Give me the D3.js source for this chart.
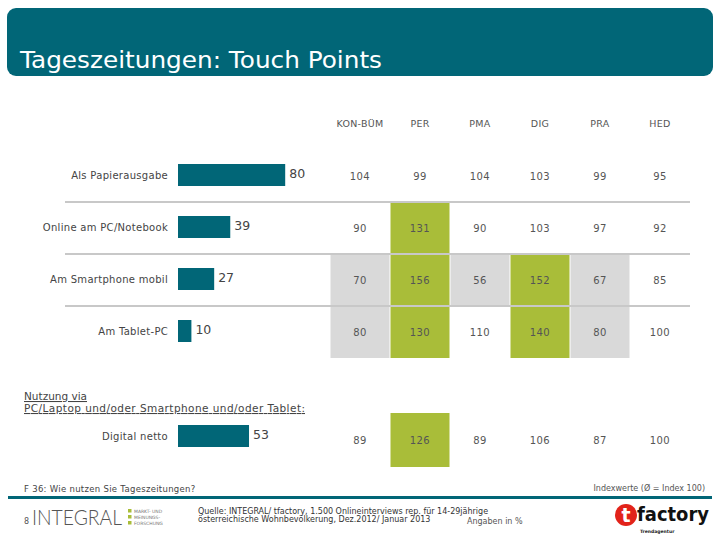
<!DOCTYPE html>
<html><head><meta charset="utf-8">
<script src="https://cdn.jsdelivr.net/npm/d3@7"></script>
<style>
html,body{margin:0;padding:0;background:#fff;}
svg{display:block;}
</style></head>
<body>
<svg id="chart" width="720" height="540"></svg>
<script>
// ---- data ----
const categories = ["Als Papierausgabe", "Online am PC/Notebook", "Am Smartphone mobil", "Am Tablet-PC"];
const usage = [80, 39, 27, 10];
const nettoLabel = "Digital netto";
const nettoValue = 53;
const columns = ["KON-BÜM", "PER", "PMA", "DIG", "PRA", "HED"];
const indexRows = [
  [104, 99, 104, 103, 99, 95],
  [90, 131, 90, 103, 97, 92],
  [70, 156, 56, 152, 67, 85],
  [80, 130, 110, 140, 80, 100]
];
const nettoIndex = [89, 126, 89, 106, 87, 100];

const TEAL = "#016677", GREEN = "#a9bd39", GREY = "#d9d9d9", SEP = "#c8c8c8";
const FONT = "DejaVu Sans, Verdana, sans-serif";

const svg = d3.select("#chart");

// header
svg.append("rect").attr("x", 7).attr("y", 8).attr("width", 706).attr("height", 68)
  .attr("rx", 9).attr("fill", TEAL);
svg.append("text").attr("x", 20).attr("y", 68).attr("fill", "#fff")
  .attr("font-family", FONT).attr("font-size", 23).attr("textLength", 362)
  .attr("lengthAdjust", "spacingAndGlyphs").text("Tageszeitungen: Touch Points");

// scales
const x = d3.scaleLinear().domain([0, 100]).range([178, 312]);
const rowBand = d3.scaleBand().domain(categories).range([150, 358]).paddingInner(0).paddingOuter(0);
const col = d3.scaleBand().domain(columns).range([330, 690]);

function cellColor(v) { return v >= 120 ? GREEN : (v <= 80 ? GREY : "none"); }

// table header
svg.append("g").selectAll("text").data(columns).join("text")
  .attr("x", d => col(d) + col.bandwidth() / 2).attr("y", 127)
  .attr("text-anchor", "middle").attr("font-family", FONT).attr("font-size", 9.5)
  .attr("fill", "#555").attr("letter-spacing", 0.3).text(d => d);

// cells
const rowsG = svg.append("g");
indexRows.forEach((row, i) => {
  const y0 = rowBand(categories[i]);
  row.forEach((v, j) => {
    const c = cellColor(v);
    if (c !== "none") {
      rowsG.append("rect").attr("x", col(columns[j]) + 0.5).attr("y", y0)
        .attr("width", col.bandwidth() - 1).attr("height", rowBand.bandwidth()).attr("fill", c);
    }
  });
});
// netto cells
const nettoY0 = 413, nettoH = 54;
nettoIndex.forEach((v, j) => {
  const c = cellColor(v);
  if (c !== "none") {
    rowsG.append("rect").attr("x", col(columns[j]) + 0.5).attr("y", nettoY0)
      .attr("width", col.bandwidth() - 1).attr("height", nettoH).attr("fill", c);
  }
});

// separators
[1, 2, 3].forEach(i => {
  const y = rowBand(categories[i]);
  svg.append("line").attr("x1", 65).attr("x2", 690).attr("y1", y).attr("y2", y)
    .attr("stroke", SEP).attr("stroke-width", 2);
});

// index values
indexRows.forEach((row, i) => {
  const cy = rowBand(categories[i]) + rowBand.bandwidth() / 2;
  row.forEach((v, j) => {
    svg.append("text").attr("x", col(columns[j]) + col.bandwidth() / 2).attr("y", cy + 3.5)
      .attr("text-anchor", "middle").attr("font-family", FONT).attr("font-size", 10)
      .attr("fill", "#555").attr("letter-spacing", 0.4).text(v);
  });
});
nettoIndex.forEach((v, j) => {
  svg.append("text").attr("x", col(columns[j]) + col.bandwidth() / 2).attr("y", 443.5)
    .attr("text-anchor", "middle").attr("font-family", FONT).attr("font-size", 10)
    .attr("fill", "#555").attr("letter-spacing", 0.4).text(v);
});

// bars
const barH = 22;
categories.forEach((c, i) => {
  const cy = rowBand(c) + rowBand.bandwidth() / 2 - 1;
  svg.append("rect").attr("x", x(0)).attr("y", cy - barH / 2)
    .attr("width", x(usage[i]) - x(0)).attr("height", barH).attr("fill", TEAL);
  svg.append("text").attr("x", x(usage[i]) + 4).attr("y", cy + 3)
    .attr("font-family", FONT).attr("font-size", 12.5).attr("fill", "#444").text(usage[i]);
  svg.append("text").attr("x", 168).attr("y", cy + 4)
    .attr("text-anchor", "end").attr("font-family", FONT).attr("font-size", 10)
    .attr("fill", "#444").attr("letter-spacing", 0.3).text(c);
});

// netto bar
svg.append("text").attr("x", 24).attr("y", 400).attr("font-family", FONT).attr("font-size", 10.5)
  .attr("fill", "#444").attr("text-decoration", "underline").text("Nutzung via");
svg.append("text").attr("x", 24).attr("y", 412).attr("font-family", FONT).attr("font-size", 10.5)
  .attr("fill", "#444").attr("text-decoration", "underline").attr("textLength", 281)
  .text("PC/Laptop und/oder Smartphone und/oder Tablet:");
svg.append("rect").attr("x", x(0)).attr("y", 425).attr("width", x(nettoValue) - x(0))
  .attr("height", barH).attr("fill", TEAL);
svg.append("text").attr("x", x(nettoValue) + 4).attr("y", 439)
  .attr("font-family", FONT).attr("font-size", 12.5).attr("fill", "#444").text(nettoValue);
svg.append("text").attr("x", 168).attr("y", 440).attr("text-anchor", "end")
  .attr("font-family", FONT).attr("font-size", 10).attr("fill", "#444").attr("letter-spacing", 0.3)
  .text(nettoLabel);

// footer
svg.append("text").attr("x", 24).attr("y", 492).attr("font-family", FONT).attr("font-size", 8.5)
  .attr("fill", "#444").attr("letter-spacing", 0.3).text("F 36: Wie nutzen Sie Tageszeitungen?");
svg.append("text").attr("x", 705).attr("y", 491).attr("text-anchor", "end").attr("font-family", FONT)
  .attr("font-size", 8).attr("fill", "#555").text("Indexwerte (Ø = Index 100)");
svg.append("rect").attr("x", 8).attr("y", 496).attr("width", 704).attr("height", 3).attr("fill", TEAL);

svg.append("text").attr("x", 24).attr("y", 524).attr("font-family", FONT).attr("font-size", 8)
  .attr("fill", "#555").text("8");
svg.append("text").attr("x", 32).attr("y", 525).attr("font-family", "Lato, Open Sans, sans-serif")
  .attr("font-weight", 300).attr("font-size", 22).attr("fill", "#555").attr("textLength", 90)
  .attr("lengthAdjust", "spacingAndGlyphs").text("INTEGRAL");
["MARKT- UND", "MEINUNGS-", "FORSCHUNG"].forEach((t, i) => {
  svg.append("rect").attr("x", 128).attr("y", 509 + i * 6).attr("width", 3.5).attr("height", 3.5).attr("fill", GREEN);
  svg.append("text").attr("x", 134).attr("y", 513 + i * 6).attr("font-family", FONT)
    .attr("font-size", 4.5).attr("fill", "#777").text(t);
});
svg.append("text").attr("x", 198).attr("y", 514).attr("font-family", FONT).attr("font-size", 8)
  .attr("fill", "#333").text("Quelle: INTEGRAL/ tfactory, 1.500 Onlineinterviews rep. für 14-29jährige");
svg.append("text").attr("x", 198).attr("y", 522).attr("font-family", FONT).attr("font-size", 8)
  .attr("fill", "#333").text("österreichische Wohnbevölkerung, Dez.2012/ Januar 2013");
svg.append("text").attr("x", 467).attr("y", 524).attr("font-family", FONT).attr("font-size", 8)
  .attr("fill", "#555").text("Angaben in %");

// tfactory logo
svg.append("circle").attr("cx", 626).attr("cy", 515).attr("r", 11).attr("fill", "#e2231a");
svg.append("text").attr("x", 626).attr("y", 522).attr("text-anchor", "middle")
  .attr("font-family", "DejaVu Sans, sans-serif").attr("font-weight", "bold").attr("font-size", 19)
  .attr("fill", "#fff").text("t");
svg.append("text").attr("x", 637).attr("y", 521).attr("font-family", "DejaVu Sans, sans-serif")
  .attr("font-weight", "bold").attr("font-size", 19).attr("fill", "#111").attr("textLength", 72)
  .attr("lengthAdjust", "spacingAndGlyphs").text("factory");
svg.append("text").attr("x", 640).attr("y", 533).attr("font-family", FONT).attr("font-weight", "bold")
  .attr("font-size", 4.5).attr("fill", "#222").text("Trendagentur");
</script>
</body></html>
